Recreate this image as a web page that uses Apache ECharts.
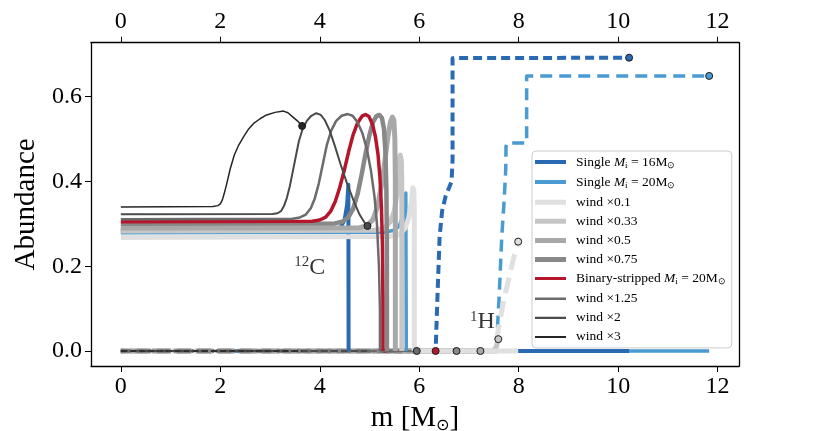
<!DOCTYPE html>
<html><head><meta charset="utf-8">
<script src="https://cdn.jsdelivr.net/npm/echarts@6/dist/echarts.min.js"></script>
<style>html,body{margin:0;padding:0;background:#fff}#c{width:830px;height:431px}</style>
</head><body><div id="c"></div>
<script>
// ---- tick values / labels ----
const xTicks = [0, 2, 4, 6, 8, 10, 12];
const yTicks = [0.0, 0.2, 0.4, 0.6];
const yTickLabels = ['0.0', '0.2', '0.4', '0.6'];

// ---- model names (legend order) ----
const modelNames = ['Single Mi = 16M⊙', 'Single Mi = 20M⊙', 'wind ×0.1', 'wind ×0.33', 'wind ×0.5',
  'wind ×0.75', 'Binary-stripped Mi = 20M⊙', 'wind ×1.25', 'wind ×2', 'wind ×3'];

// ---- 12C profiles [m, X] ----
const C_s16 = [[0,0.285],[4.3,0.286],[4.42,0.292],[4.5,0.31],[4.55,0.345],[4.575,0.392],[4.58,0.39],[4.58,0],[10.22,0]];
const C_s20 = [[0,0.279],[5.3,0.28],[5.5,0.285],[5.6,0.295],[5.67,0.32],[5.71,0.35],[5.73,0.373],[5.74,0.37],[5.74,0],[11.83,0]];
const C_w01 = [[0,0.268],[5.4,0.27],[5.6,0.275],[5.72,0.29],[5.79,0.315],[5.84,0.35],[5.87,0.385],[5.89,0.38],[5.9,0.34],[5.9,0],[7.99,0]];
const C_w033 = [[0,0.283],[5.1,0.285],[5.3,0.29],[5.42,0.305],[5.5,0.33],[5.55,0.37],[5.58,0.42],[5.6,0.455],[5.62,0.462],[5.64,0.45],[5.65,0.4],[5.65,0],[7.59,0]];
const C_w05 = [[0,0.29],[4.8,0.291],[4.95,0.296],[5.07,0.31],[5.16,0.34],[5.24,0.39],[5.31,0.45],[5.37,0.505],[5.42,0.54],[5.46,0.552],[5.49,0.545],[5.51,0.5],[5.52,0.4],[5.52,0],[7.23,0]];
const C_w075 = [[0,0.30],[4.3,0.301],[4.45,0.305],[4.57,0.315],[4.67,0.335],[4.76,0.37],[4.84,0.415],[4.92,0.465],[5.0,0.51],[5.07,0.54],[5.14,0.554],[5.2,0.557],[5.25,0.55],[5.29,0.525],[5.32,0.47],[5.34,0.38],[5.35,0.25],[5.35,0],[6.75,0]];
const C_bin = [[0,0.305],[3.85,0.306],[4.0,0.309],[4.12,0.316],[4.22,0.33],[4.31,0.352],[4.4,0.385],[4.49,0.425],[4.58,0.47],[4.67,0.51],[4.76,0.538],[4.85,0.554],[4.92,0.558],[4.99,0.553],[5.06,0.535],[5.12,0.505],[5.17,0.465],[5.21,0.41],[5.24,0.34],[5.26,0.25],[5.27,0.12],[5.27,0],[6.33,0]];
const C_w125 = [[0,0.311],[3.45,0.312],[3.6,0.315],[3.72,0.322],[3.82,0.337],[3.9,0.36],[3.98,0.395],[4.06,0.44],[4.14,0.485],[4.23,0.52],[4.33,0.543],[4.44,0.555],[4.56,0.559],[4.66,0.555],[4.76,0.54],[4.86,0.513],[4.95,0.475],[5.03,0.425],[5.1,0.365],[5.15,0.3],[5.19,0.2],[5.21,0.1],[5.21,0],[5.95,0]];
const C_w2 = [[0,0.3225],[3.05,0.323],[3.15,0.325],[3.22,0.33],[3.28,0.342],[3.34,0.362],[3.4,0.39],[3.46,0.425],[3.52,0.46],[3.58,0.495],[3.65,0.522],[3.74,0.543],[3.83,0.555],[3.93,0.561],[4.02,0.557],[4.1,0.545],[4.2,0.52],[4.3,0.485],[4.42,0.44],[4.55,0.395],[4.68,0.355],[4.8,0.322],[4.9,0.303],[4.96,0.295]];
const C_w3 = [[0,0.34],[1.85,0.341],[1.95,0.343],[2.0,0.347],[2.04,0.356],[2.08,0.372],[2.13,0.395],[2.2,0.43],[2.28,0.462],[2.37,0.486],[2.47,0.506],[2.57,0.524],[2.67,0.537],[2.8,0.548],[2.93,0.557],[3.1,0.563],[3.27,0.566],[3.36,0.562],[3.45,0.553],[3.55,0.543],[3.645,0.531]];

// ---- 1H profiles [m, X] ----
const H_s16 = [[0,0],[6.33,0],[6.35,0.07],[6.37,0.14],[6.41,0.27],[6.46,0.33],[6.53,0.365],[6.6,0.385],[6.65,0.4],[6.67,0.45],[6.67,0.691],[10.22,0.692]];
const H_s20 = [[0,0],[7.55,0],[7.58,0.07],[7.61,0.136],[7.66,0.27],[7.71,0.36],[7.74,0.43],[7.745,0.483],[7.77,0.491],[8.16,0.491],[8.16,0.649],[11.83,0.649]];
const H_w01 = [[0,0],[7.5,0],[7.56,0.03],[7.62,0.07],[7.7,0.12],[7.8,0.17],[7.9,0.22],[7.99,0.258]];
const H_w033 = [[0,0],[7.5,0],[7.55,0.01],[7.59,0.028]];
const H_w05 = [[0,0],[7.23,0]];
const H_w075 = [[0,0],[6.75,0]];
const H_bin = [[0,0],[6.33,0]];
const H_w125 = [[0,0],[5.95,0]];
const H_w2 = [[0,0],[4.96,0]];
const H_w3 = [[0,0],[3.645,0]];

// which profile carries the surface marker
const markerOn = ['H','H','H','H','H','H','H','H','C','C'];

// ---- annotation labels ----
const annotations = [
  {sup: '12', main: 'C', m: 3.8, x: 0.196},
  {sup: '1', main: 'H', m: 7.27, x: 0.068}
];

// ---- styles ----
const FONT = '"Liberation Serif", "Times New Roman", serif';
const colors = ['#2a6ab3','#4a9bd1','#e0e0e0','#c6c6c6','#a8a8a8','#888888','#b5162b','#6b6b6b','#4a4a4a','#262626'];
const widths = [4, 3.5, 5, 5, 5, 4.5, 3.5, 2.5, 2, 1.5];
const dashes = [[9,5],[12,7],[16,8],[15,6],[17,5],[14,6],[11,5],[9,4],[7,3],[6,3]];
const dashOff = [0, 0, 0, 7, 13, 4, 0, 0, 0, 0];
const hZ = [1.02, 1.03, 1.04, 1.05, 1.06, 1.07, 1.01, 2.01, 2.02, 2.03];
const tailZ = [0.91, 0.9, 1.55, 1.54, 1.53, 1.52, 1.45, 1.56, 1.57, 1.58];
const legendThick = [4, 4, 5, 5, 5, 5, 3, 2.5, 2.2, 2];

const Cs = [C_s16, C_s20, C_w01, C_w033, C_w05, C_w075, C_bin, C_w125, C_w2, C_w3];
const Hs = [H_s16, H_s20, H_w01, H_w033, H_w05, H_w075, H_bin, H_w125, H_w2, H_w3];

function splitAtDrop(d) {
  for (let k = 1; k < d.length; k++) {
    if (d[k][1] === 0 && d[k - 1][1] > 0) return [d.slice(0, k + 1), d.slice(k)];
  }
  return [d, null];
}

const series = [];
modelNames.forEach((name, i) => {
  const [arch, tail] = splitAtDrop(Cs[i]);
  const ls = {color: colors[i], width: widths[i], cap: 'butt', join: 'round'};
  series.push({type: 'line', name, data: arch, symbol: 'none', z: 3 + i * 0.01,
    lineStyle: ls, itemStyle: {color: colors[i]}, color: colors[i], animation: false, silent: true});
  if (tail) series.push({type: 'line', name, data: tail, symbol: 'none', z: tailZ[i],
    lineStyle: ls, itemStyle: {color: colors[i]}, color: colors[i], animation: false, silent: true});
  series.push({
    type: 'line', name, data: Hs[i], symbol: 'none', z: hZ[i],
    lineStyle: {color: colors[i], width: widths[i], type: dashes[i], dashOffset: dashOff[i], cap: 'butt', join: 'round'},
    itemStyle: {color: colors[i]}, color: colors[i], animation: false, silent: true
  });
});
modelNames.forEach((name, i) => {
  const prof = markerOn[i] === 'H' ? Hs[i] : Cs[i];
  series.push({
    type: 'scatter', name, data: [prof[prof.length - 1]], symbol: 'circle', symbolSize: 7, z: 5,
    itemStyle: {color: colors[i], borderColor: '#1a1a1a', borderWidth: 1, opacity: 1},
    animation: false, silent: true
  });
});
series.push({
  type: 'scatter', name: 'labels', data: annotations.map(a => [a.m, a.x]), symbolSize: 0, z: 6,
  label: {
    show: true, position: 'inside',
    formatter: p => '{s|' + annotations[p.dataIndex].sup + '}{b|' + annotations[p.dataIndex].main + '}',
    rich: {
      s: {fontFamily: FONT, fontSize: 15, color: '#000', verticalAlign: 'top', lineHeight: 26},
      b: {fontFamily: FONT, fontSize: 24, color: '#000', lineHeight: 26}
    }
  },
  animation: false, silent: true
});

function legIcon(t) {
  const a = 5 - t / 2, b = 5 + t / 2;
  return 'path://M0,0L0.01,0L0.01,0.01Z M0,' + a + 'L31,' + a + 'L31,' + b + 'L0,' + b + 'Z M0,10L0.01,10L0.01,9.99Z';
}

function richName(n) {
  const m = n.match(/^(.*)Mi = (\d+)M⊙$/);
  if (m) return '{g|}{t|' + m[1] + '}{it|M}{sub|i}{t| = ' + m[2] + 'M}{sub|⊙}';
  return '{g|}{t|' + n + '}';
}

const chart = echarts.init(document.getElementById('c'), null, {renderer: 'canvas'});
const axisLineStyle = {color: '#000', width: 1.3};
chart.setOption({
  animation: false,
  backgroundColor: '#fff',
  grid: {left: 91, right: 91, top: 42.7, bottom: 65, containLabel: false, outerBoundsMode: 'none'},
  xAxis: [
    {type: 'value', position: 'bottom', min: -0.6, max: 12.43,
     axisLine: {show: true, onZero: false, lineStyle: axisLineStyle},
     axisTick: {show: true, inside: false, length: 6, customValues: xTicks, lineStyle: {color: '#000', width: 1}},
     axisLabel: {customValues: xTicks, fontFamily: FONT, fontSize: 24, color: '#000', margin: 9},
     splitLine: {show: false},
     name: '{n|m [M}{s|⊙}{n|]}', nameLocation: 'middle', nameGap: 28,
     nameTextStyle: {rich: {
       n: {fontFamily: FONT, fontSize: 29, color: '#000', lineHeight: 30},
       s: {fontFamily: 'DejaVu Sans', fontSize: 16, color: '#000', verticalAlign: 'bottom', lineHeight: 16}
     }}},
    {type: 'value', position: 'top', min: -0.6, max: 12.43,
     axisLine: {show: true, onZero: false, lineStyle: axisLineStyle},
     axisTick: {show: true, inside: false, length: 6, customValues: xTicks, lineStyle: {color: '#000', width: 1}},
     axisLabel: {customValues: xTicks, fontFamily: FONT, fontSize: 24, color: '#000', margin: 9},
     splitLine: {show: false}}
  ],
  yAxis: [
    {type: 'value', position: 'left', min: -0.0354, max: 0.7274,
     axisLine: {show: true, onZero: false, lineStyle: axisLineStyle},
     axisTick: {show: true, inside: false, length: 6, customValues: yTicks, lineStyle: {color: '#000', width: 1}},
     axisLabel: {customValues: yTicks, formatter: v => yTickLabels[yTicks.indexOf(+v.toFixed(1))] || v.toFixed(1),
       fontFamily: FONT, fontSize: 24, color: '#000', margin: 9},
     splitLine: {show: false},
     name: 'Abundance', nameLocation: 'middle', nameGap: 36, nameRotate: 90,
     nameTextStyle: {fontFamily: FONT, fontSize: 29, color: '#000'}},
    {type: 'value', position: 'right', min: -0.0354, max: 0.7274,
     axisLine: {show: true, onZero: false, lineStyle: axisLineStyle},
     axisTick: {show: false}, axisLabel: {show: false}, splitLine: {show: false}}
  ],
  legend: {
    orient: 'vertical', left: 532, top: 151, z: 0.5,
    data: modelNames.map((n, i) => ({name: n, icon: legIcon(legendThick[i]),
      itemStyle: {color: colors[i], borderWidth: 0}})),
    itemWidth: 31, itemHeight: 10, itemGap: 5.1,
    padding: [4, 6, 4, 3],
    backgroundColor: '#fff', borderColor: '#cccccc', borderWidth: 1, borderRadius: 4,
    selectedMode: false,
    formatter: n => richName(n),
    textStyle: {rich: {
      g: {width: 5, lineHeight: 16},
      t: {fontFamily: FONT, fontSize: 13.5, color: '#000', lineHeight: 16},
      it: {fontFamily: FONT, fontSize: 13.5, fontStyle: 'italic', color: '#000', lineHeight: 16},
      sub: {fontFamily: FONT, fontSize: 9, color: '#000', verticalAlign: 'bottom', lineHeight: 8}
    }}
  },
  series
});
</script></body></html>
